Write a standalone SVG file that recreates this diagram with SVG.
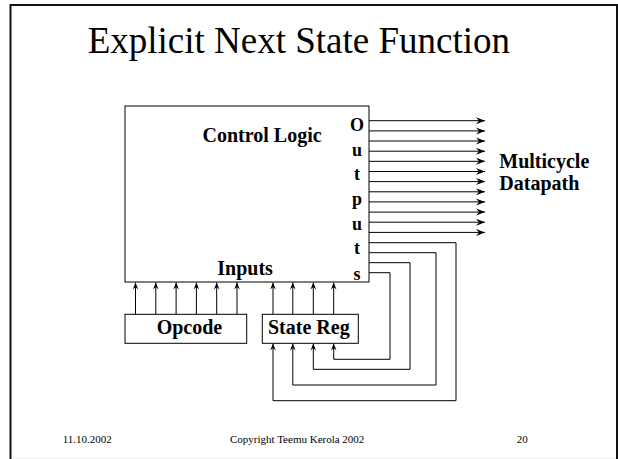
<svg xmlns="http://www.w3.org/2000/svg" width="618" height="459" viewBox="0 0 618 459">
<style>
.ln{fill:none;stroke:#000;stroke-width:1}
.box{fill:#fff;stroke:#000;stroke-width:1}
.b{font-family:"Liberation Serif","Times New Roman",serif;font-weight:bold;font-size:20px;fill:#000}
.o{font-family:"Liberation Serif","Times New Roman",serif;font-weight:bold;font-size:18px;fill:#000;text-anchor:middle}
.f{font-family:"Liberation Serif","Times New Roman",serif;font-size:11px;fill:#000}
</style>
<defs>
<marker id="ah" markerUnits="userSpaceOnUse" markerWidth="10" markerHeight="8" viewBox="-10 -4 10 8" refX="0" refY="0" orient="auto">
<path d="M0,0 L-9,-3.5 L-6,0 L-9,3.5 Z" fill="#000"/>
</marker>
<marker id="ahs" markerUnits="userSpaceOnUse" markerWidth="8" markerHeight="6" viewBox="-8 -3 8 6" refX="0" refY="0" orient="auto">
<path d="M0,0 L-7,-2.8 L-4.5,0 L-7,2.8 Z" fill="#000"/>
</marker>
</defs>
<rect width="618" height="459" fill="#fff"/>
<path d="M10.5,462 V5 H617 V462" fill="none" stroke="#111" stroke-width="2"/>
<line x1="12" y1="458" x2="616" y2="458" stroke="#ececec" stroke-width="1"/>
<text x="87.7" y="52.7" font-family="Liberation Serif,'Times New Roman',serif" font-size="37" fill="#000">Explicit Next State Function</text>
<g id="connectors">
<g class="ln" marker-end="url(#ah)">
<line x1="369" y1="120.7" x2="485" y2="120.7"/>
<line x1="369" y1="130.9" x2="485" y2="130.9"/>
<line x1="369" y1="141" x2="485" y2="141"/>
<line x1="369" y1="151.2" x2="485" y2="151.2"/>
<line x1="369" y1="161.3" x2="485" y2="161.3"/>
<line x1="369" y1="171.5" x2="485" y2="171.5"/>
<line x1="369" y1="181.6" x2="485" y2="181.6"/>
<line x1="369" y1="191.8" x2="485" y2="191.8"/>
<line x1="369" y1="201.9" x2="485" y2="201.9"/>
<line x1="369" y1="212.1" x2="485" y2="212.1"/>
<line x1="369" y1="222.2" x2="485" y2="222.2"/>
<line x1="369" y1="232.4" x2="485" y2="232.4"/>
</g>
<g class="ln" marker-end="url(#ahs)">
<line x1="135.5" y1="314.3" x2="135.5" y2="282.5"/>
<line x1="155.8" y1="314.3" x2="155.8" y2="282.5"/>
<line x1="176.1" y1="314.3" x2="176.1" y2="282.5"/>
<line x1="196.4" y1="314.3" x2="196.4" y2="282.5"/>
<line x1="216.7" y1="314.3" x2="216.7" y2="282.5"/>
<line x1="237" y1="314.3" x2="237" y2="282.5"/>
<line x1="273" y1="314.3" x2="273" y2="282.5"/>
<line x1="292.8" y1="314.3" x2="292.8" y2="282.5"/>
<line x1="313.3" y1="314.3" x2="313.3" y2="282.5"/>
<line x1="333.7" y1="314.3" x2="333.7" y2="282.5"/>
<path d="M369,242.7 H456 V400.7 H273 V343.6"/>
<path d="M369,252.7 H436 V385 H292.8 V343.6"/>
<path d="M369,262.7 H410 V369.3 H313.3 V343.6"/>
<path d="M369,272.7 H390 V359.3 H333.7 V343.6"/>
</g>
</g>
<g id="control-logic">
<rect class="box" x="125" y="106" width="244" height="176"/>
<text class="b" x="202.5" y="142">Control Logic</text>
<text class="b" x="217.3" y="275">Inputs</text>
<text class="o" x="357" y="131">O</text>
<text class="o" x="357" y="155.8">u</text>
<text class="o" x="357" y="179.6">t</text>
<text class="o" x="357" y="205">p</text>
<text class="o" x="357" y="229.6">u</text>
<text class="o" x="357" y="253.5">t</text>
<text class="o" x="357" y="280">s</text>
</g>
<g id="opcode">
<rect class="box" x="125" y="314.3" width="121.7" height="29"/>
<text class="b" x="156.7" y="334">Opcode</text>
</g>
<g id="state-reg">
<rect class="box" x="262.3" y="314.3" width="96" height="29"/>
<text class="b" x="268" y="334">State Reg</text>
</g>
<g id="datapath">
<text class="b" x="499.3" y="168.3">Multicycle</text>
<text class="b" x="499.3" y="190">Datapath</text>
</g>
<g id="footer">
<text class="f" x="62.7" y="443.3">11.10.2002</text>
<text class="f" x="230" y="443.3">Copyright Teemu Kerola 2002</text>
<text class="f" x="516.7" y="443.3">20</text>
</g>
</svg>
